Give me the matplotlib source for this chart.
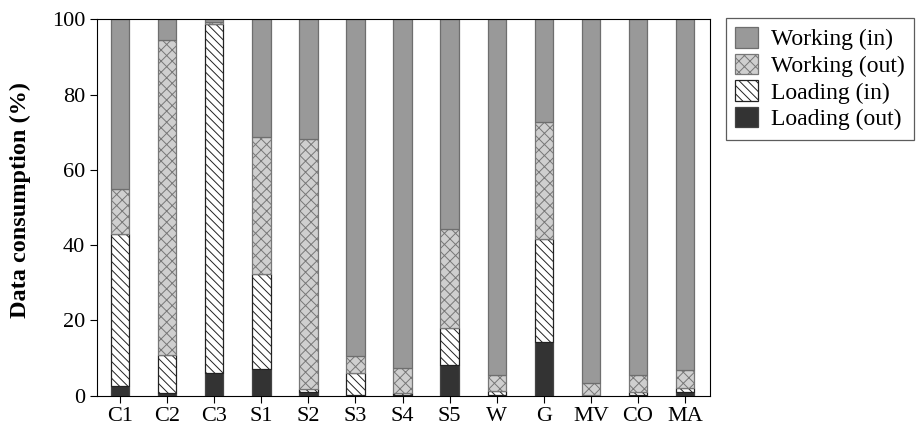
#!/usr/bin/env python3

import matplotlib
matplotlib.use("Agg")
import matplotlib.pyplot as plt
import numpy as np

# Data (%)
apps = ["C1", "C2", "C3", "S1", "S2", "S3", "S4", "S5",
        "W", "G", "MV", "CO", "MA"]
loading_out = [2.6, 0.8, 5.9, 7.1, 1.0, 0.2, 0.1, 8.1, 0.2, 14.2, 0.1, 0.1, 1.0]
loading_in = [40.3, 9.9, 92.8, 25.2, 0.9, 5.7, 0.7, 10.0, 1.1, 27.4, 0.2, 0.9, 1.1]
working_out = [12.1, 83.9, 0.6, 36.4, 66.3, 4.6, 6.6, 26.1, 4.1, 31.0, 3.0, 4.4, 4.7]
working_in = [45.0, 5.4, 0.7, 31.3, 31.8, 89.5, 92.6, 55.8, 94.6, 27.4, 96.7, 94.6, 93.2]


def main() -> None:
    plt.rcParams["font.family"] = ["Liberation Serif", "DejaVu Serif"]
    plt.rcParams["hatch.linewidth"] = 0.7

    fig = plt.figure(figsize=(9.18, 4.28), dpi=100)
    ax = fig.add_axes([0.1057, 0.0755, 0.6677, 0.8795])

    x = np.arange(len(apps))
    w = 0.39
    bottom = np.zeros(len(apps))

    # (values, label, face, edge, hatch) from bottom to top
    layers = [
        (loading_out, "Loading (out)", "#333333", "#444444", ""),
        (loading_in, "Loading (in)", "white", "#222222", "\\\\\\\\"),
        (working_out, "Working (out)", "#cfcfcf", "#777777", "xxx"),
        (working_in, "Working (in)", "#999999", "#6e6e6e", ""),
    ]
    handles = []
    for vals, label, face, edge, hatch in layers:
        vals = np.array(vals)
        bars = ax.bar(x, vals, w, bottom=bottom, color=face,
                      edgecolor=edge, hatch=hatch, linewidth=0.9,
                      label=label)
        handles.append(bars)
        bottom += vals

    ax.set_xlim(-0.49, len(apps) - 0.47)
    ax.set_ylim(0, 100)
    ax.set_yticks(range(0, 101, 20))
    ax.set_xticks(x)
    ax.set_xticklabels(apps)
    ax.tick_params(axis="both", labelsize=16, direction="out", length=5)
    ax.set_ylabel("Data consumption (%)", fontsize=17.5, fontweight="bold")
    ax.yaxis.set_label_coords(-0.107, 0.52)

    leg = ax.legend(handles[::-1], [h.get_label() for h in handles[::-1]],
                    loc="upper left", bbox_to_anchor=(1.026, 1.004),
                    fontsize=17, frameon=True, fancybox=False,
                    edgecolor="#333333", handlelength=0.95,
                    handleheight=0.95, handletextpad=0.55,
                    labelspacing=0.14, borderpad=0.4, borderaxespad=0)
    leg.get_frame().set_linewidth(0.9)

    fig.savefig("out.png", dpi=100)


if __name__ == "__main__":
    main()
